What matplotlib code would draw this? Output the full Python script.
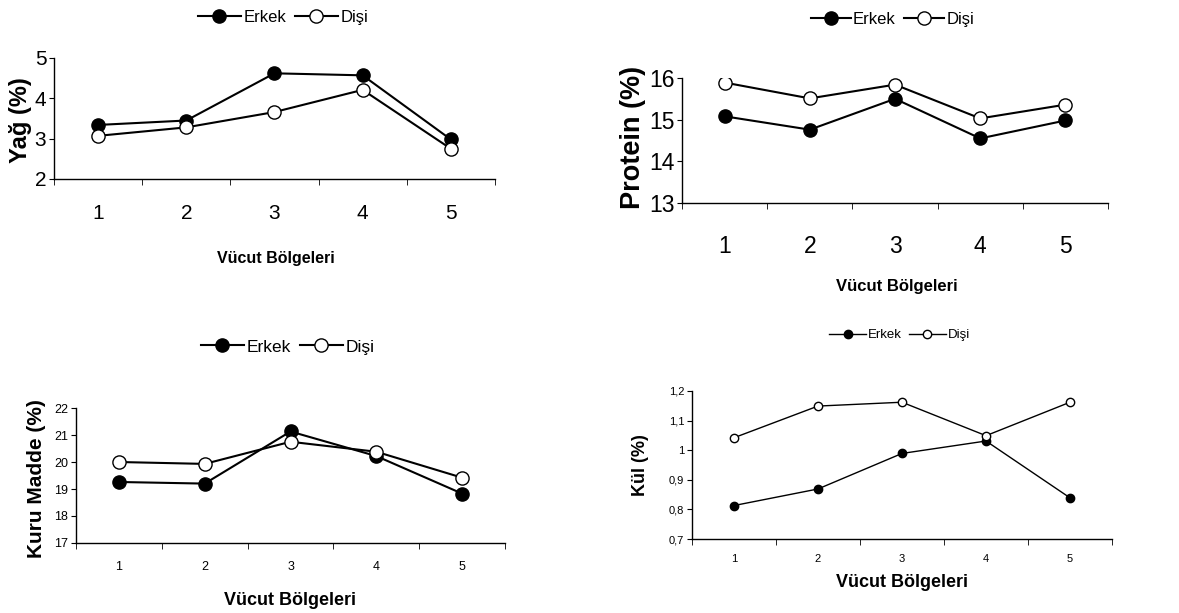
import matplotlib
matplotlib.use("Agg")
import matplotlib.pyplot as plt

plt.rcParams['font.family'] = ['Liberation Sans', 'DejaVu Sans']
NARROW = ['Liberation Sans Narrow', 'Liberation Sans', 'DejaVu Sans']

# veri
bolgeler = [1, 2, 3, 4, 5]
seriler = ['Erkek', 'Dişi']

yag_erkek = [3.34, 3.45, 4.62, 4.57, 2.98]
yag_disi = [3.07, 3.28, 3.66, 4.21, 2.75]

protein_erkek = [15.08, 14.76, 15.50, 14.55, 14.98]
protein_disi = [15.89, 15.51, 15.84, 15.03, 15.36]

kuru_erkek = [19.26, 19.20, 21.13, 20.22, 18.83]
kuru_disi = [20.00, 19.93, 20.75, 20.38, 19.42]

kul_erkek = [0.813, 0.869, 0.989, 1.031, 0.839]
kul_disi = [1.042, 1.149, 1.162, 1.049, 1.162]

yag_ticks = [2, 3, 4, 5]
protein_ticks = [13, 14, 15, 16]
kuru_ticks = [17, 18, 19, 20, 21, 22]
kul_ticks = [0.7, 0.8, 0.9, 1.0, 1.1, 1.2]
kul_ticklabels = ['0,7', '0,8', '0,9', '1', '1,1', '1,2']

fig = plt.figure(figsize=(11.79, 6.13), dpi=100)


def panel(rect, erkek, disi, yticks, yticklabels, ms, lw, tick_fs, xpad,
          leg_xy, leg_fs, leg_font, hlen, xlab_xy, xlab_fs, xlab_font,
          ylab_xy, ylab, ylab_fs):
    ax = fig.add_axes(rect)
    ax.plot(bolgeler, erkek, '-o', color='black', mfc='black', mec='black',
            ms=ms, lw=lw, mew=1, label=seriler[0])
    ax.plot(bolgeler, disi, '-o', color='black', mfc='white', mec='black',
            ms=ms, lw=lw, mew=1, label=seriler[1])
    ax.set_xlim(0.5, 5.5)
    ax.set_ylim(yticks[0], yticks[-1])
    for s in ['top', 'right']:
        ax.spines[s].set_visible(False)
    for s in ['left', 'bottom']:
        ax.spines[s].set_linewidth(1.0)
    ax.set_xticks(bolgeler)
    ax.set_xticks([b - 0.5 for b in bolgeler] + [5.5], minor=True)
    ax.tick_params(axis='x', which='major', length=0, pad=xpad, labelsize=tick_fs)
    ax.tick_params(axis='x', which='minor', length=4, direction='out')
    ax.set_yticks(yticks)
    ax.set_yticklabels(yticklabels)
    ax.tick_params(axis='y', length=3.5, pad=2, labelsize=tick_fs)
    ax.legend(loc='center', bbox_to_anchor=leg_xy, bbox_transform=fig.transFigure,
              ncol=2, frameon=False, handlelength=hlen, handletextpad=0.15,
              columnspacing=0.5, prop={'family': leg_font, 'size': leg_fs})
    fig.text(xlab_xy[0], xlab_xy[1], 'Vücut Bölgeleri', ha='center', va='center',
             fontsize=xlab_fs, fontweight='bold', family=xlab_font)
    fig.text(ylab_xy[0], ylab_xy[1], ylab, ha='center', va='center', rotation=90,
             fontsize=ylab_fs, fontweight='bold')
    return ax


# Yağ
panel([0.0458, 0.708, 0.374, 0.1974], yag_erkek, yag_disi, yag_ticks,
      [str(t) for t in yag_ticks], ms=9.5, lw=1.5, tick_fs=15, xpad=18,
      leg_xy=(0.240, 0.972), leg_fs=12, leg_font=NARROW, hlen=2.6,
      xlab_xy=(0.234, 0.579), xlab_fs=11.5, xlab_font=NARROW,
      ylab_xy=(0.017, 0.804), ylab='Yağ (%)', ylab_fs=17)

# Protein
panel([0.5785, 0.6688, 0.3613, 0.204], protein_erkek, protein_disi, protein_ticks,
      [str(t) for t in protein_ticks], ms=9.5, lw=1.5, tick_fs=16.5, xpad=23,
      leg_xy=(0.757, 0.969), leg_fs=12, leg_font=NARROW, hlen=2.4,
      xlab_xy=(0.761, 0.532), xlab_fs=12, xlab_font=NARROW,
      ylab_xy=(0.537, 0.775), ylab='Protein (%)', ylab_fs=19.5)

# Kuru Madde
panel([0.0645, 0.1142, 0.3638, 0.2202], kuru_erkek, kuru_disi, kuru_ticks,
      [str(t) for t in kuru_ticks], ms=9.5, lw=1.5, tick_fs=9, xpad=13,
      leg_xy=(0.244, 0.434), leg_fs=12.5, leg_font=NARROW, hlen=2.5,
      xlab_xy=(0.246, 0.021), xlab_fs=13, xlab_font=['Liberation Sans'],
      ylab_xy=(0.031, 0.220), ylab='Kuru Madde (%)', ylab_fs=15)

# Kül
panel([0.5869, 0.1207, 0.3563, 0.2415], kul_erkek, kul_disi, kul_ticks,
      kul_ticklabels, ms=6, lw=1.0, tick_fs=8, xpad=11,
      leg_xy=(0.763, 0.4535), leg_fs=9.5, leg_font=['Liberation Sans'], hlen=2.8,
      xlab_xy=(0.765, 0.049), xlab_fs=13, xlab_font=['Liberation Sans'],
      ylab_xy=(0.543, 0.241), ylab='Kül (%)', ylab_fs=13)

fig.savefig('out.png', dpi=100)
